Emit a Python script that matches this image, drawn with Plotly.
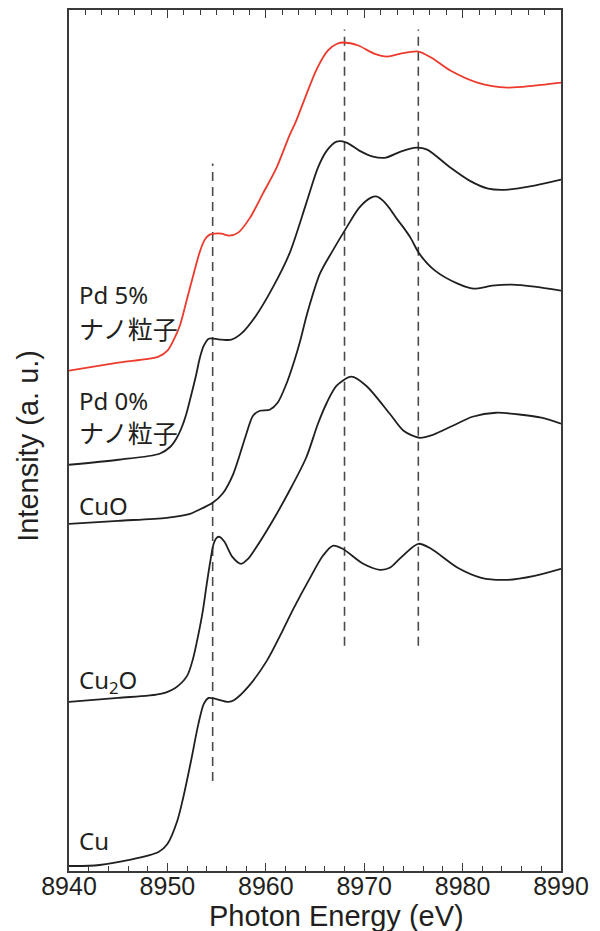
import plotly.graph_objects as go

# ---------------- data ----------------
# Photon energy (eV) and intensity (a.u., vertically offset spectra)
e_pd5 = [8940, 8945, 8949.1, 8950, 8950.7, 8951.3, 8952.0, 8952.7, 8953.3, 8953.8,
         8954.3, 8954.8, 8955.5, 8956.3, 8957.2, 8958.4, 8959.7, 8961.1, 8962.4, 8963.1,
         8964.0, 8965.2, 8966.3, 8967.3, 8967.9, 8969.4, 8971.0, 8972.35, 8973.7, 8975.5,
         8976.8, 8978.75, 8981.5, 8984.6, 8987.3, 8990]
i_pd5 = [5.00, 5.08, 5.14, 5.20, 5.32, 5.46, 5.72, 5.98, 6.19, 6.31,
         6.36, 6.37, 6.37, 6.35, 6.38, 6.53, 6.77, 7.03, 7.35, 7.50,
         7.73, 8.02, 8.20, 8.27, 8.28, 8.25, 8.17, 8.14, 8.17, 8.19,
         8.13, 8.00, 7.88, 7.83, 7.85, 7.88]

e_pd0 = [8940, 8945, 8949.2, 8950.3, 8950.9, 8951.4, 8951.9, 8952.4, 8952.9, 8953.3,
         8953.7, 8954.2, 8955.5, 8956.5, 8957.5, 8959.0, 8960.7, 8962.4, 8964.1, 8965.3,
         8966.2, 8967.2, 8968.2, 8969.5, 8970.9, 8972.2, 8973.7, 8975.3, 8976.4, 8978.75,
         8980.7, 8982.6, 8984.6, 8987.3, 8990]
i_pd0 = [4.06, 4.11, 4.17, 4.24, 4.32, 4.42, 4.56, 4.75, 4.95, 5.13,
         5.25, 5.32, 5.31, 5.31, 5.37, 5.55, 5.83, 6.17, 6.67, 7.03,
         7.20, 7.29, 7.28, 7.20, 7.14, 7.13, 7.19, 7.23, 7.21, 7.03,
         6.90, 6.82, 6.81, 6.85, 6.91]

e_cuo = [8940, 8945, 8949.9, 8952.3, 8953.0, 8954.6, 8955.6, 8956.7, 8957.9, 8958.7,
         8959.4, 8960.4, 8961.2, 8962.1, 8962.9, 8963.5, 8964.2, 8965.5, 8966.8, 8968.2,
         8969.5, 8970.7, 8971.3, 8971.9, 8972.6, 8973.3, 8974.0, 8974.7, 8975.6, 8977.2,
         8979.5, 8981.1, 8983.0, 8985.0, 8987.3, 8990]
i_cuo = [3.47, 3.50, 3.53, 3.57, 3.60, 3.68, 3.77, 3.97, 4.33, 4.55,
         4.60, 4.61, 4.68, 4.87, 5.10, 5.30, 5.57, 5.97, 6.20, 6.43,
         6.63, 6.73, 6.74, 6.70, 6.62, 6.52, 6.43, 6.33, 6.17, 6.00,
         5.87, 5.82, 5.85, 5.86, 5.84, 5.80]

e_cu2o = [8940, 8945, 8949.3, 8950.8, 8952.0, 8952.6, 8953.1, 8953.6, 8954.0, 8954.4,
          8954.7, 8955.0, 8955.3, 8955.8, 8956.6, 8957.5, 8958.2, 8959.0, 8960.7, 8962.4,
          8964.1, 8965.3, 8966.2, 8967.2, 8968.7, 8970.2, 8972.6, 8974.0, 8975.6, 8977.0,
          8979.0, 8981.0, 8983.4, 8986.0, 8988.0, 8990]
i_cu2o = [1.69, 1.73, 1.77, 1.83, 1.95, 2.12, 2.34, 2.60, 2.87, 3.12,
          3.27, 3.33, 3.34, 3.29, 3.14, 3.07, 3.12, 3.23, 3.50, 3.80,
          4.13, 4.47, 4.68, 4.85, 4.94, 4.85, 4.57, 4.40, 4.33, 4.36,
          4.45, 4.54, 4.58, 4.56, 4.53, 4.47]

e_cu = [8940, 8943.1, 8949.1, 8950.0, 8951.0, 8951.6, 8952.4, 8953.15, 8953.7, 8954.2,
        8954.9, 8956.2, 8956.8, 8958.2, 8960.1, 8961.7, 8962.8, 8964.5, 8965.8, 8966.8,
        8967.8, 8969.9, 8971.6, 8972.6, 8973.7, 8975.5, 8976.8, 8979.5, 8981.9, 8984.6,
        8987.3, 8990]
i_cu = [0.05, 0.06, 0.19, 0.27, 0.50, 0.73, 1.10, 1.47, 1.67, 1.73,
        1.72, 1.69, 1.71, 1.84, 2.10, 2.40, 2.62, 2.93, 3.15, 3.25,
        3.22, 3.07, 3.01, 3.03, 3.13, 3.27, 3.22, 3.03, 2.93, 2.91,
        2.95, 3.02]

# reference dashed lines: energy, lower and upper intensity
ref_energy = [8954.6, 8968.0, 8975.5]
ref_low = [0.90, 2.25, 2.25]
ref_high = [7.07, 8.41, 8.41]

# sample labels
label_text = ["Pd 5%", "ナノ粒子", "Pd 0%", "ナノ粒子", "CuO", "Cu<sub>2</sub>O", "Cu"]
label_y = [5.76, 5.42, 4.70, 4.38, 3.65, 1.90, 0.30]
label_x = 8940.8

x_ticks = [8940, 8950, 8960, 8970, 8980, 8990]

# ---------------- figure ----------------
INK = "#231f20"
RED = "#ec3a2c"

fig = go.Figure()

for ex, lo, hi in zip(ref_energy, ref_low, ref_high):
    fig.add_trace(go.Scatter(x=[ex, ex], y=[lo, hi], mode="lines",
                             line=dict(color="#4a4a4a", width=1.6, dash="9px,6px"),
                             hoverinfo="skip", showlegend=False))

series = [(e_cu, i_cu, INK), (e_cu2o, i_cu2o, INK), (e_cuo, i_cuo, INK),
          (e_pd0, i_pd0, INK), (e_pd5, i_pd5, RED)]
for ex, iy, col in series:
    fig.add_trace(go.Scatter(x=ex, y=iy, mode="lines",
                             line=dict(color=col, width=1.8, shape="spline", smoothing=0.8),
                             showlegend=False))

# invisible trace to hold the top axis
fig.add_trace(go.Scatter(x=[x_ticks[0], x_ticks[-1]], y=[0, 0], xaxis="x2", mode="lines",
                         line=dict(width=0), hoverinfo="skip", showlegend=False))

for t, y in zip(label_text, label_y):
    cjk = "ナ" in t
    fig.add_annotation(x=label_x, y=y, text=t, showarrow=False, xanchor="left",
                       yanchor="middle",
                       font=dict(family="Noto Sans, Noto Sans CJK JP",
                                 size=25 if cjk else 24, color=INK))

fig.add_annotation(xref="paper", yref="paper", x=0.544, y=-0.052,
                   text="Photon Energy (eV)", showarrow=False,
                   xanchor="center", yanchor="middle",
                   font=dict(family="Liberation Sans", size=29, color=INK))
fig.add_annotation(xref="paper", yref="paper", x=-0.083, y=0.494,
                   text="Intensity (a. u.)", showarrow=False, textangle=-90,
                   xanchor="center", yanchor="middle",
                   font=dict(family="Liberation Sans", size=29, color=INK))

axis_col = "#3a3a3a"
fig.update_layout(
    width=592, height=923,
    margin=dict(l=61, r=39, t=2, b=60, autoexpand=False),
    paper_bgcolor="white", plot_bgcolor="white",
    xaxis=dict(range=[8940, 8990], tickvals=x_ticks, ticks="inside", ticklen=8,
               tickwidth=1.3, tickcolor=axis_col, ticklabelstandoff=-8,
               minor=dict(ticks="inside", ticklen=5, dtick=2, tick0=8940,
                          tickcolor=axis_col, tickwidth=1.2),
               showline=True, linecolor=axis_col, linewidth=1.6, mirror=False,
               showgrid=False, zeroline=False,
               tickfont=dict(family="Liberation Sans", size=25, color=INK)),
    xaxis2=dict(range=[8940, 8990], overlaying="x", side="top", anchor="y",
                tickvals=x_ticks, ticks="inside", ticklen=8, tickwidth=1.3,
                tickcolor=axis_col, showticklabels=False,
                minor=dict(ticks="inside", ticklen=5, dtick=10 / 6, tick0=8940,
                           tickcolor=axis_col, tickwidth=1.2),
                showline=True, linecolor=axis_col, linewidth=1.6,
                showgrid=False, zeroline=False),
    yaxis=dict(range=[0, 8.605], showticklabels=False, ticks="",
               showline=True, linecolor=axis_col, linewidth=1.6, mirror=True,
               showgrid=False, zeroline=False),
)

fig.write_html("out.html")
